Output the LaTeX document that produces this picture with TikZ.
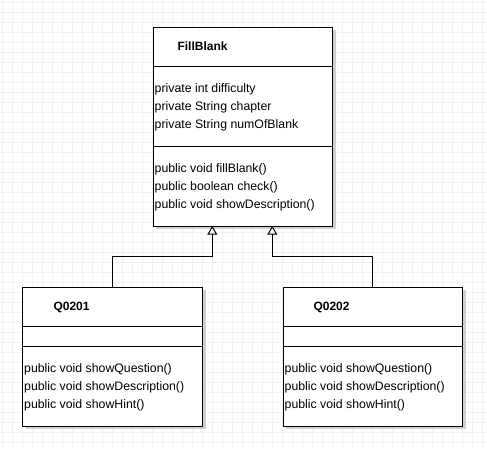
\documentclass[tikz,border=0pt]{standalone}
\usepackage{fontspec}
\setmainfont{Liberation Sans}
\usetikzlibrary{arrows.meta}
\definecolor{gridc}{HTML}{F2F2F2}
\definecolor{shadowc}{HTML}{D0D0D0}
\tikzset{
  umlbox/.style={draw=black, line width=1pt, fill=white, inner sep=0pt, minimum width=179.6pt, anchor=north west},
  boxshadow/.style={fill=shadowc, draw=none},
  member/.style={anchor=base west, inner sep=0pt, font=\fontsize{12.3}{18}\selectfont},
  title/.style={anchor=base west, inner sep=0pt, font=\fontsize{12}{18}\selectfont\bfseries},
  divider/.style={line width=1pt},
  inherit/.style={line width=1pt, -{Triangle[open, width=10pt, length=9pt]}}
}
\begin{document}
\begin{tikzpicture}[x=1pt, y=-1pt]
\useasboundingbox (0,0) rectangle (487,448);
\fill[white] (0,0) rectangle (487,448);
\draw[gridc, line width=1pt, step=10pt, shift={(2.7,2.7)}] (-2.7,-2.7) grid (484.3,445.3);
% shadows
\fill[boxshadow] (156,30) rectangle (335.5,229);
\fill[boxshadow] (25.5,290) rectangle (205.5,429);
\fill[boxshadow] (286,290) rectangle (465.5,429);
% FillBlank
\node[umlbox, minimum height=199pt] (fb) at (152.7,26.7) {};
\draw[divider] (152.7,66.7) -- (332.3,66.7);
\draw[divider] (152.7,146.7) -- (332.3,146.7);
\node[title] (fbt) at (177.3,50) {FillBlank};
\node[member] (fba1) at (154.5,92) {private int difficulty};
\node[member] (fba2) at (154.5,110) {private String chapter};
\node[member] (fba3) at (154.5,128) {private String numOfBlank};
\node[member] (fbm1) at (154.5,172) {public void fillBlank()};
\node[member] (fbm2) at (154.5,190) {public boolean check()};
\node[member] (fbm3) at (154.5,208) {public void showDescription()};
% Q0201
\node[umlbox, minimum height=139pt] (qa) at (22.3,286.7) {};
\draw[divider] (22.3,326.7) -- (202.3,326.7);
\draw[divider] (22.3,346.7) -- (202.3,346.7);
\node[title] (qat) at (53.3,310) {Q0201};
\node[member] (qam1) at (24,372) {public void showQuestion()};
\node[member] (qam2) at (24,390) {public void showDescription()};
\node[member] (qam3) at (24,408) {public void showHint()};
% Q0202
\node[umlbox, minimum height=139pt] (qb) at (282.7,286.7) {};
\draw[divider] (282.7,326.7) -- (462.3,326.7);
\draw[divider] (282.7,346.7) -- (462.3,346.7);
\node[title] (qbt) at (313.3,310) {Q0202};
\node[member] (qbm1) at (284.5,372) {public void showQuestion()};
\node[member] (qbm2) at (284.5,390) {public void showDescription()};
\node[member] (qbm3) at (284.5,408) {public void showHint()};
% connectors
\coordinate (ta) at (212.3,225.7);
\coordinate (tb) at (272.3,225.7);
\coordinate (sa) at (112.7,286.7);
\coordinate (sb) at (372.3,286.7);
\draw[inherit] (sa) -- (112.7,256) -- (212.3,256) -- (ta);
\draw[inherit] (sb) -- (372.3,256) -- (272.3,256) -- (tb);
\end{tikzpicture}
\end{document}
